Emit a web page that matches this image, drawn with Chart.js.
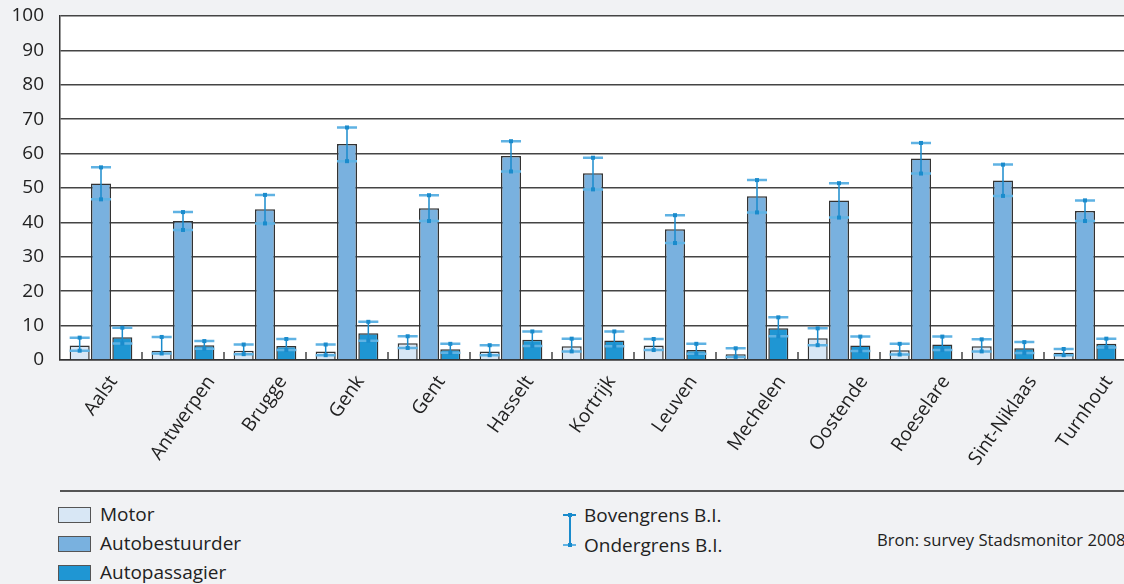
<!DOCTYPE html>
<html>
<head>
<meta charset="utf-8">
<script src="https://cdn.jsdelivr.net/npm/chart.js@4/dist/chart.umd.min.js"></script>
<style>
  body { margin: 0; background: #f1f2f4; width: 1124px; height: 584px; overflow: hidden; position: relative; font-family: "Open Sans", sans-serif; color: #222; }
  #wrap { position: absolute; left: 0; top: 0; width: 1126px; height: 470px; }
  #rule { position: absolute; left: 60px; top: 490px; width: 1070px; height: 0; border-top: 2px solid #555; }
  .lg { position: absolute; font-size: 19px; line-height: 22px; white-space: nowrap; }
  .box { position: absolute; width: 33px; height: 16px; box-sizing: border-box; border: 1.5px solid #555; }
  #bron { position: absolute; left: 877px; top: 528px; font-size: 16.6px; white-space: nowrap; }
</style>
</head>
<body>
<div id="wrap"><canvas id="myChart" width="1126" height="470"></canvas></div>
<div id="rule"></div>
<div id="legend"></div>
<div id="bron">Bron: survey Stadsmonitor 2008</div>
<script>
const cities = ['Aalst', 'Antwerpen', 'Brugge', 'Genk', 'Gent', 'Hasselt', 'Kortrijk', 'Leuven',
  'Mechelen', 'Oostende', 'Roeselare', 'Sint-Niklaas', 'Turnhout'];

const seriesNames = ['Motor', 'Autobestuurder', 'Autopassagier'];
const seriesColors = ['#d8e7f5', '#79b1df', '#1f96d3'];

const motor = [4.2, 2.7, 2.7, 2.5, 4.9, 2.5, 4.0, 4.2, 1.7, 6.3, 2.8, 4.0, 2.1];
const motorHigh = [6.5, 6.7, 4.5, 4.5, 6.9, 4.3, 6.2, 6.1, 3.4, 9.2, 4.7, 6.0, 3.2];
const motorLow = [2.7, 1.9, 1.7, 1.4, 3.5, 1.4, 2.5, 2.9, 0.9, 4.3, 1.6, 2.5, 1.4];

const autobestuurder = [51.3, 40.4, 43.8, 62.8, 44.1, 59.3, 54.3, 38.0, 47.6, 46.4, 58.6, 52.2, 43.3];
const autobestuurderHigh = [56.0, 43.0, 48.0, 67.6, 47.9, 63.6, 58.8, 42.1, 52.3, 51.4, 63.1, 56.8, 46.4];
const autobestuurderLow = [46.7, 37.8, 39.7, 57.8, 40.4, 54.8, 49.6, 34.0, 42.9, 41.4, 54.2, 47.7, 40.4];

const autopassagier = [6.6, 4.3, 4.1, 7.8, 3.1, 5.9, 5.7, 2.9, 9.2, 4.2, 4.5, 3.4, 4.7];
const autopassagierHigh = [9.4, 5.5, 6.1, 11.1, 4.7, 8.3, 8.3, 4.7, 12.4, 6.8, 6.8, 5.2, 6.2];
const autopassagierLow = [4.8, 3.3, 2.9, 5.6, 2.1, 4.1, 4.0, 1.8, 6.9, 2.6, 2.9, 2.0, 3.6];

const yTicks = [0, 10, 20, 30, 40, 50, 60, 70, 80, 90, 100];

const values = [motor, autobestuurder, autopassagier];
const highs = [motorHigh, autobestuurderHigh, autopassagierHigh];
const lows = [motorLow, autobestuurderLow, autopassagierLow];

const errColor = '#1a8bcc';
const capColor = '#5fb2e3';

// white plot background
const plotBg = {
  id: 'plotBg',
  beforeDraw(chart) {
    const { ctx, chartArea: a } = chart;
    ctx.save();
    ctx.fillStyle = '#fff';
    ctx.fillRect(a.left, a.top, a.right - a.left, a.bottom - a.top);
    ctx.restore();
  }
};

// small separators between groups + error bars
const errorBars = {
  id: 'errorBars',
  afterDatasetsDraw(chart) {
    const { ctx, scales } = chart;
    const x = scales.x, y = scales.y;
    ctx.save();
    const step = x.getPixelForValue(1) - x.getPixelForValue(0);
    ctx.strokeStyle = '#444';
    ctx.lineWidth = 1.5;
    for (let i = 1; i < cities.length; i++) {
      const px = x.getPixelForValue(i) - step / 2;
      ctx.beginPath();
      ctx.moveTo(px, y.bottom);
      ctx.lineTo(px, y.bottom - 8);
      ctx.stroke();
    }
    values.forEach((vals, d) => {
      const meta = chart.getDatasetMeta(d);
      meta.data.forEach((bar, j) => {
        const w = bar.width;
        const yh = y.getPixelForValue(highs[d][j]);
        const yl = y.getPixelForValue(lows[d][j]);
        ctx.strokeStyle = capColor;
        ctx.lineWidth = 2.5;
        ctx.beginPath();
        ctx.moveTo(bar.x - w / 2, yh); ctx.lineTo(bar.x + w / 2, yh);
        ctx.moveTo(bar.x - w / 2, yl); ctx.lineTo(bar.x + w / 2, yl);
        ctx.stroke();
        ctx.strokeStyle = errColor;
        ctx.lineWidth = 1.5;
        ctx.beginPath();
        ctx.moveTo(bar.x, yh); ctx.lineTo(bar.x, yl);
        ctx.stroke();
        ctx.fillStyle = errColor;
        ctx.fillRect(bar.x - 2, yh - 2, 4, 4);
        ctx.fillRect(bar.x - 2, yl - 2, 4, 4);
      });
    });
    ctx.restore();
  }
};

// rotated category labels, centred under each group (Excel style)
const xLabels = {
  id: 'xLabels',
  afterDraw(chart) {
    const { ctx, scales } = chart;
    const x = scales.x;
    const ang = 55 * Math.PI / 180;
    const top = x.top + 14;
    ctx.save();
    ctx.font = '19px "Open Sans"';
    ctx.fillStyle = '#222';
    ctx.textAlign = 'center';
    ctx.textBaseline = 'middle';
    cities.forEach((c, i) => {
      const w = ctx.measureText(c).width;
      const h = 14;
      const H = w * Math.sin(ang) + h * Math.cos(ang);
      ctx.save();
      ctx.translate(x.getPixelForValue(i), top + H / 2);
      ctx.rotate(-ang);
      ctx.fillText(c, 0, 0);
      ctx.restore();
    });
    ctx.restore();
  }
};

new Chart(document.getElementById('myChart'), {
  type: 'bar',
  data: {
    labels: cities,
    datasets: values.map((vals, i) => ({
      label: seriesNames[i],
      data: vals,
      backgroundColor: seriesColors[i],
      borderColor: '#333',
      borderWidth: 1.5,
      categoryPercentage: 0.78,
      barPercentage: 0.94
    }))
  },
  options: {
    responsive: false,
    devicePixelRatio: 1,
    animation: false,
    layout: { padding: { top: 16, left: 0, right: 0, bottom: 0 } },
    plugins: { legend: { display: false }, tooltip: { enabled: false } },
    scales: {
      y: {
        min: 0,
        max: 100,
        afterBuildTicks: s => { s.ticks = yTicks.map(v => ({ value: v })); },
        afterFit: s => { s.width = 60; s.paddingTop = 0; s.paddingBottom = 0; },
        grid: { color: '#444', lineWidth: 1.5, drawTicks: false },
        border: { color: '#333', width: 1.5 },
        ticks: { padding: 16, color: '#222', font: { family: 'Open Sans', size: 19 } }
      },
      x: {
        afterFit: s => { s.height = 110; s.paddingLeft = 0; s.paddingRight = 0; },
        grid: { display: false },
        border: { color: '#333', width: 1.5 },
        ticks: { display: false }
      }
    }
  },
  plugins: [plotBg, errorBars, xLabels]
});

// legend
const legend = document.getElementById('legend');
const tops = [507, 536, 565];
seriesNames.forEach((name, i) => {
  const b = document.createElement('div');
  b.className = 'box';
  b.style.left = '58px';
  b.style.top = tops[i] + 'px';
  b.style.background = seriesColors[i];
  legend.appendChild(b);
  const t = document.createElement('div');
  t.className = 'lg';
  t.style.left = '100px';
  t.style.top = (tops[i] - 4) + 'px';
  t.textContent = name;
  legend.appendChild(t);
});
const eb = document.createElement('div');
eb.innerHTML =
  '<div style="position:absolute;left:569px;top:515px;width:1.5px;height:30px;background:' + errColor + '"></div>' +
  '<div style="position:absolute;left:563px;top:514px;width:13px;height:2px;background:' + errColor + '"></div>' +
  '<div style="position:absolute;left:563px;top:544px;width:13px;height:2px;background:' + capColor + '"></div>' +
  '<div style="position:absolute;left:568px;top:513px;width:4px;height:4px;background:' + errColor + '"></div>' +
  '<div style="position:absolute;left:568px;top:543px;width:4px;height:4px;background:' + errColor + '"></div>' +
  '<div class="lg" style="left:584px;top:504px">Bovengrens B.I.</div>' +
  '<div class="lg" style="left:584px;top:534px">Ondergrens B.I.</div>';
legend.appendChild(eb);
</script>
</body>
</html>
